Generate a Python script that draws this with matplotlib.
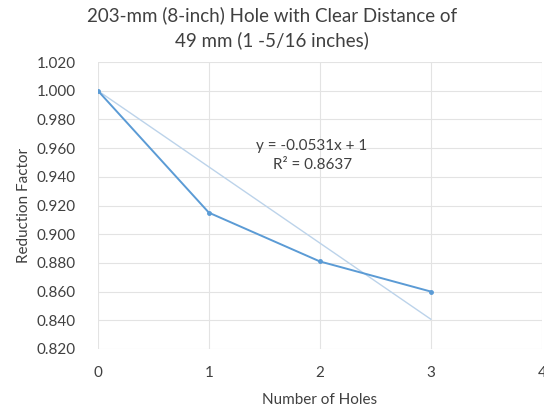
import matplotlib
matplotlib.use("Agg")
import matplotlib.pyplot as plt
import numpy as np

plt.rcParams['font.family'] = ['Lato', 'DejaVu Sans']

holes = [0, 1, 2, 3]
factor = [1.000, 0.915, 0.881, 0.860]
slope = -0.0531
intercept = 1.0
r2 = 0.8637
yticks = [0.820, 0.840, 0.860, 0.880, 0.900, 0.920, 0.940, 0.960, 0.980, 1.000, 1.020]

fig = plt.figure(figsize=(5.44, 4.11), dpi=100)
ax = fig.add_axes([0.18, 0.151, 0.816, 0.698])

# trendline
xt = np.array([holes[0], holes[-1]])
ax.plot(xt, slope * xt + intercept, color='#bcd3ea', lw=1.0, zorder=2)
ax.plot(holes, factor, color='#5b9bd5', lw=1.4, marker='o', ms=2.5, zorder=3)

ax.set_xlim(0, 4)
ax.set_ylim(0.820, 1.020)
ax.set_xticks([0, 1, 2, 3, 4])
ax.set_yticks(yticks)
ax.set_yticklabels(["{:.3f}".format(v) for v in yticks])
ax.grid(True, color='#e3e3e3', lw=0.8)
ax.set_axisbelow(True)
for s in ax.spines.values():
    s.set_visible(False)
ax.tick_params(length=0, labelsize=11, colors='#404040')
ax.tick_params(axis='x', pad=12)
ax.tick_params(axis='y', pad=16)

ax.text(1.93, 0.9615, "y = -0.0531x + 1", ha='center', va='center', fontsize=11, color='#404040')
ax.text(1.93, 0.9485, "R² = {:.4f}".format(r2), ha='center', va='center', fontsize=11, color='#404040')

ax.set_xlabel("Number of Holes", fontsize=11, color='#404040', labelpad=10)
ax.set_ylabel("Reduction Factor", fontsize=11, color='#404040', labelpad=4)
fig.suptitle("203-mm (8-inch) Hole with Clear Distance of\n49 mm (1 -5/16 inches)",
             x=0.5, y=0.985, fontsize=13.5, color='#404040', linespacing=1.45)

fig.savefig("out.png", dpi=100)
